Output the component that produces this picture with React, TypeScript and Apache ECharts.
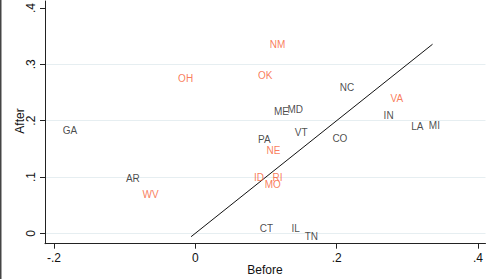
import React, { useEffect, useRef } from "react";
import * as echarts from "echarts";

const states = ["NM", "OH", "OK", "NC", "ME", "MD", "PA", "VT", "CO", "NE", "ID", "RI", "MO", "CT", "IL", "TN", "VA", "IN", "LA", "MI", "GA", "AR", "WV"];
const before = [0.101, -0.0286, 0.0845, 0.2, 0.1071, 0.1261, 0.0845, 0.1364, 0.1897, 0.0964, 0.0789, 0.1049, 0.094, 0.0869, 0.1317, 0.1505, 0.2721, 0.2622, 0.3013, 0.3262, -0.1919, -0.1025, -0.0789];
const after = [0.3357, 0.2756, 0.2797, 0.259, 0.2161, 0.2191, 0.1666, 0.1784, 0.1678, 0.1472, 0.0989, 0.0989, 0.0871, 0.0088, 0.0088, -0.006, 0.2385, 0.209, 0.1896, 0.1913, 0.1825, 0.0972, 0.0694];
const highlighted = ["NM", "OH", "OK", "NE", "ID", "RI", "MO", "VA", "WV"];
const xTicks = [-0.2, 0, 0.2, 0.4];
const yTicks = [0, 0.1, 0.2, 0.3, 0.4];
const gridLevels = [0, 0.1, 0.2, 0.3];

const FONT = "Liberation Sans, Arial, sans-serif";
const fmt = (v: number) => {
  if (Math.abs(v) < 1e-9) return "0";
  return v.toFixed(1).replace("0.", ".");
};

export default function App() {
  const ref = useRef<HTMLDivElement>(null);
  useEffect(() => {
    if (!ref.current) return;
    const chart = echarts.init(ref.current, undefined, { renderer: "svg" });
    const pts = states.map((s, i) => ({
      value: [before[i], after[i]],
      name: s,
      label: { color: highlighted.includes(s) ? "#f75b32" : "#1a1a1a" },
    }));
    const minA = Math.min(...after);
    const maxA = Math.max(...after);
    chart.setOption({
      animation: false,
      backgroundColor: "#ffffff",
      grid: { left: 45, right: 0, top: 0, bottom: 35.3, containLabel: false },
      xAxis: {
        type: "value",
        min: -0.2127,
        max: 0.4106,
        axisLine: { show: true, onZero: false, lineStyle: { color: "#222", width: 1 } },
        axisTick: { show: true, length: 5, customValues: xTicks, lineStyle: { color: "#222" } },
        axisLabel: {
          customValues: xTicks,
          formatter: (v: number) => fmt(v),
          fontSize: 12,
          color: "#111",
          fontFamily: FONT,
          margin: 8,
        },
        splitLine: { show: false },
      },
      yAxis: {
        type: "value",
        min: -0.0184,
        max: 0.4124,
        axisLine: { show: true, onZero: false, lineStyle: { color: "#222", width: 1 } },
        axisTick: { show: true, length: 5, customValues: yTicks, lineStyle: { color: "#222" } },
        axisLabel: {
          customValues: yTicks,
          formatter: (v: number) => fmt(v),
          fontSize: 12,
          color: "#111",
          fontFamily: FONT,
          rotate: 90,
          margin: 8,
        },
        splitLine: { show: false },
      },
      graphic: [
        {
          type: "text",
          x: 265,
          y: 270,
          style: { text: "Before", fontSize: 12, fontFamily: FONT, fill: "#111", align: "center", verticalAlign: "middle" },
        },
        {
          type: "text",
          x: 20,
          y: 121,
          rotation: Math.PI / 2,
          style: { text: "After", fontSize: 12, fontFamily: FONT, fill: "#111", align: "center", verticalAlign: "middle" },
        },
        {
          type: "line",
          shape: { x1: 0.75, y1: 0, x2: 0.75, y2: 279 },
          style: { stroke: "#444", lineWidth: 1.5 },
        },
      ],
      series: [
        {
          type: "line",
          data: [],
          silent: true,
          z: 0,
          zlevel: 0,
          markLine: {
            silent: true,
            symbol: "none",
            z: 0,
            label: { show: false },
            lineStyle: { color: "#e6eef1", width: 1, type: "solid" },
            data: gridLevels.map((v) => ({ yAxis: v })),
          },
        },
        {
          type: "line",
          z: 3,
          data: [
            [minA, minA],
            [maxA, maxA],
          ],
          symbol: "none",
          lineStyle: { color: "#111", width: 1 },
          silent: true,
        },
        {
          type: "scatter",
          z: 5,
          data: pts,
          symbolSize: 1,
          itemStyle: { color: "transparent" },
          label: {
            show: true,
            position: "right",
            distance: 2.5,
            formatter: (p: any) => p.name,
            fontSize: 10,
            fontFamily: FONT,
          },
        },
      ],
    });
    return () => chart.dispose();
  }, []);
  return <div ref={ref} style={{ position: "fixed", left: 0, top: 0, width: 486, height: 279 }} />;
}
